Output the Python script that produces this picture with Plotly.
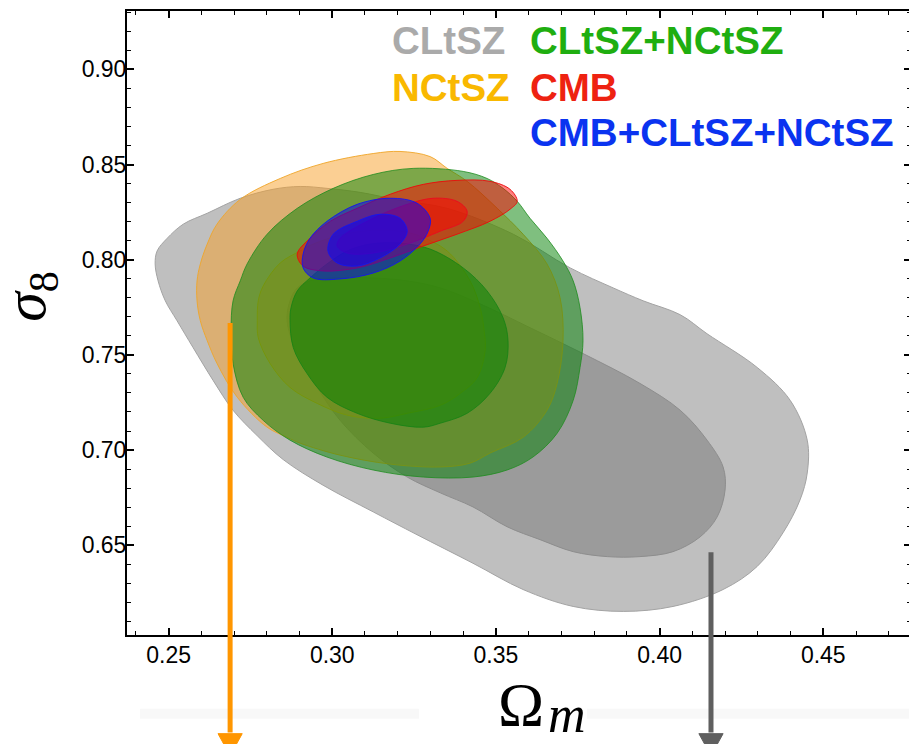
import plotly.graph_objects as go

# ---------------- axis ticks ----------------
x_ticks = [0.25, 0.30, 0.35, 0.40, 0.45]
x_tick_text = ["0.25", "0.30", "0.35", "0.40", "0.45"]
y_ticks = [0.65, 0.70, 0.75, 0.80, 0.85, 0.90]
y_tick_text = ["0.65", "0.70", "0.75", "0.80", "0.85", "0.90"]
x_range = [0.2373, 0.4768]
y_range = [0.6028, 0.9307]

# ---------------- contour boundaries (Omega_m, sigma_8) ----------------
# CLtSZ 95%
cl_out_om = [0.2459, 0.2465, 0.2496, 0.2545, 0.2618, 0.2719, 0.2819, 0.2902, 0.2984, 0.3085,
             0.3207, 0.3351, 0.3553, 0.3727, 0.3858, 0.3950, 0.4063, 0.4145, 0.4298, 0.4399,
             0.4451, 0.4451, 0.4429, 0.4377, 0.4298, 0.4194, 0.4041, 0.3889, 0.3736, 0.3583,
             0.3430, 0.3259, 0.3125, 0.2972, 0.2850, 0.2771, 0.2697, 0.2636, 0.2575, 0.2526,
             0.2490, 0.2468]
cl_out_s8 = [0.7978, 0.8046, 0.8113, 0.8187, 0.8244, 0.8323, 0.8370, 0.8385, 0.8375, 0.8354,
             0.8312, 0.8270, 0.8134, 0.7957, 0.7852, 0.7784, 0.7711, 0.7611, 0.7434, 0.7261,
             0.7052, 0.6879, 0.6738, 0.6565, 0.6388, 0.6267, 0.6178, 0.6152, 0.6178, 0.6267,
             0.6405, 0.6555, 0.6675, 0.6815, 0.6950, 0.7075, 0.7209, 0.7366, 0.7538, 0.7679,
             0.7784, 0.7889]
# CLtSZ 68%
cl_in_om = [0.2862, 0.2871, 0.2893, 0.2932, 0.2984, 0.3125, 0.3229, 0.3330, 0.3452, 0.3604,
            0.3766, 0.3940, 0.4063, 0.4145, 0.4194, 0.4200, 0.4176, 0.4124, 0.4041, 0.3940,
            0.3840, 0.3736, 0.3635, 0.3534, 0.3430, 0.3330, 0.3229, 0.3125, 0.3024, 0.2954,
            0.2893]
cl_in_s8 = [0.7679, 0.7784, 0.7852, 0.7889, 0.7904, 0.7904, 0.7889, 0.7852, 0.7768, 0.7643,
            0.7507, 0.7350, 0.7209, 0.7052, 0.6911, 0.6790, 0.6649, 0.6544, 0.6466, 0.6440,
            0.6440, 0.6466, 0.6529, 0.6597, 0.6701, 0.6775, 0.6858, 0.6984, 0.7156, 0.7329,
            0.7507]
# NCtSZ 95%
nc_out_om = [0.2587, 0.2597, 0.2618, 0.2648, 0.2719, 0.2841, 0.2972, 0.3125, 0.3207, 0.3299,
             0.3351, 0.3412, 0.3504, 0.3583, 0.3656, 0.3696, 0.3705, 0.3687, 0.3656, 0.3583,
             0.3482, 0.3421, 0.3330, 0.3177, 0.3024, 0.2902, 0.2862, 0.2801, 0.2710, 0.2648,
             0.2618, 0.2597, 0.2587]
nc_out_s8 = [0.7889, 0.7978, 0.8082, 0.8187, 0.8317, 0.8427, 0.8506, 0.8558, 0.8569, 0.8542,
             0.8480, 0.8412, 0.8270, 0.8134, 0.7978, 0.7800, 0.7575, 0.7350, 0.7209, 0.7067,
             0.6984, 0.6931, 0.6911, 0.6926, 0.6973, 0.7036, 0.7067, 0.7120, 0.7277, 0.7455,
             0.7575, 0.7679, 0.7784]
# NCtSZ 68%
nc_in_om = [0.2771, 0.2774, 0.2789, 0.2841, 0.2902, 0.2942, 0.3024, 0.3125, 0.3207, 0.3268,
            0.3351, 0.3421, 0.3452, 0.3464, 0.3467, 0.3443, 0.3391, 0.3330, 0.3229, 0.3146,
            0.3046, 0.2954, 0.2871, 0.2810, 0.2774]
nc_in_s8 = [0.7679, 0.7784, 0.7862, 0.7983, 0.8046, 0.8082, 0.8129, 0.8155, 0.8150, 0.8124,
            0.8046, 0.7889, 0.7747, 0.7627, 0.7522, 0.7381, 0.7298, 0.7235, 0.7193, 0.7167,
            0.7183, 0.7245, 0.7329, 0.7455, 0.7590]
# CLtSZ+NCtSZ 95%
cn_out_om = [0.2691, 0.2697, 0.2719, 0.2740, 0.2801, 0.2893, 0.3003, 0.3125, 0.3247, 0.3400,
             0.3473, 0.3522, 0.3565, 0.3604, 0.3656, 0.3705, 0.3736, 0.3757, 0.3766, 0.3757,
             0.3736, 0.3687, 0.3613, 0.3534, 0.3430, 0.3278, 0.3125, 0.2984, 0.2871, 0.2789,
             0.2728, 0.2697]
cn_out_s8 = [0.7627, 0.7784, 0.7889, 0.7978, 0.8134, 0.8270, 0.8375, 0.8448, 0.8480, 0.8464,
             0.8427, 0.8375, 0.8307, 0.8218, 0.8113, 0.7993, 0.7889, 0.7747, 0.7575, 0.7434,
             0.7261, 0.7088, 0.6963, 0.6895, 0.6858, 0.6858, 0.6895, 0.6963, 0.7052, 0.7156,
             0.7277, 0.7455]
# CLtSZ+NCtSZ 68%
cn_in_om = [0.2871, 0.2874, 0.2893, 0.2932, 0.2984, 0.3046, 0.3116, 0.3207, 0.3299, 0.3400,
            0.3473, 0.3522, 0.3537, 0.3528, 0.3482, 0.3412, 0.3330, 0.3278, 0.3177, 0.3076,
            0.2984, 0.2923, 0.2881]
cn_in_s8 = [0.7679, 0.7747, 0.7836, 0.7904, 0.7978, 0.8046, 0.8082, 0.8087, 0.8056, 0.7957,
            0.7836, 0.7695, 0.7575, 0.7434, 0.7298, 0.7193, 0.7141, 0.7120, 0.7141, 0.7193,
            0.7277, 0.7402, 0.7538]
# CMB 95%
cmb_out_om = [0.2893, 0.2932, 0.2994, 0.3076, 0.3177, 0.3278, 0.3381, 0.3482, 0.3543, 0.3565,
              0.3543, 0.3482, 0.3381, 0.3278, 0.3177, 0.3076, 0.2972, 0.2911]
cmb_out_s8 = [0.8030, 0.8113, 0.8202, 0.8270, 0.8344, 0.8396, 0.8417, 0.8412, 0.8370, 0.8307,
              0.8265, 0.8202, 0.8134, 0.8072, 0.8009, 0.7957, 0.7941, 0.7967]
# CMB 68%
cmb_in_om = [0.3015, 0.3024, 0.3125, 0.3229, 0.3308, 0.3381, 0.3412, 0.3400, 0.3330, 0.3229,
             0.3125, 0.3046]
cmb_in_s8 = [0.8072, 0.8113, 0.8218, 0.8291, 0.8323, 0.8307, 0.8255, 0.8202, 0.8150, 0.8082,
             0.8035, 0.8035]
# CMB+CLtSZ+NCtSZ 95%
all_out_om = [0.2911, 0.2932, 0.2984, 0.3076, 0.3177, 0.3259, 0.3299, 0.3293, 0.3268, 0.3207,
              0.3125, 0.3024, 0.2942, 0.2911]
all_out_s8 = [0.8030, 0.8113, 0.8202, 0.8291, 0.8323, 0.8297, 0.8218, 0.8150, 0.8082, 0.7993,
              0.7930, 0.7899, 0.7904, 0.7957]
# CMB+CLtSZ+NCtSZ 68%
all_in_om = [0.2987, 0.3003, 0.3076, 0.3146, 0.3207, 0.3229, 0.3207, 0.3146, 0.3076, 0.3015]
all_in_s8 = [0.8046, 0.8134, 0.8202, 0.8239, 0.8218, 0.8150, 0.8082, 0.8009, 0.7967, 0.7983]

# ---------------- legend labels / arrows ----------------
legend_labels = ["CLtSZ", "NCtSZ", "CLtSZ+NCtSZ", "CMB", "CMB+CLtSZ+NCtSZ"]
legend_colors = ["#aaaaaa", "#f9b800", "#1fae10", "#ee2211", "#0a33f0"]
arrow_om = [0.2688, 0.4157]
arrow_colors = ["#ff9600", "#5f5f5f"]

fig = go.Figure()


def add_region(om, s8, fill, edge, width=1.0):
    fig.add_trace(go.Scatter(
        x=om + om[:1], y=s8 + s8[:1], mode="lines", fill="toself",
        fillcolor=fill, line=dict(color=edge, width=width, shape="spline", smoothing=1.0),
        hoverinfo="skip", showlegend=False))


add_region(cl_out_om, cl_out_s8, "#bfbfbf", "#a3a3a3")
add_region(cl_in_om, cl_in_s8, "#9b9b9b", "#8d8d8d")
add_region(nc_out_om, nc_out_s8, "rgba(247,160,40,0.5)", "rgba(240,165,40,0.9)")
add_region(nc_in_om, nc_in_s8, "rgba(247,160,40,0.5)", "rgba(235,170,20,0.95)")
add_region(cn_out_om, cn_out_s8, "rgba(0,128,0,0.5)", "rgba(30,140,30,0.8)")
add_region(cn_in_om, cn_in_s8, "rgba(0,128,0,0.5)", "rgba(20,130,20,0.8)")
add_region(cmb_out_om, cmb_out_s8, "rgba(255,0,0,0.5)", "rgba(235,10,10,0.9)")
add_region(cmb_in_om, cmb_in_s8, "rgba(255,0,0,0.5)", "rgba(235,10,30,0.9)")
add_region(all_out_om, all_out_s8, "rgba(0,0,255,0.5)", "rgba(20,20,240,0.9)")
add_region(all_in_om, all_in_s8, "rgba(0,0,255,0.5)", "rgba(20,20,240,0.9)")

# legend texts
leg_pos = [(0.3355, 0.9521), (0.3355, 0.8770), (0.5115, 0.9521), (0.5115, 0.8770), (0.5115, 0.8051)]
for lab, col, (lx, ly) in zip(legend_labels, legend_colors, leg_pos):
    fig.add_annotation(x=lx, y=ly, xref="paper", yref="paper", text="<b>" + lab + "</b>",
                       showarrow=False, xanchor="left", yanchor="middle",
                       font=dict(family="Liberation Sans, Arial", size=38.5, color=col))

# axis titles
fig.add_annotation(x=-0.1245, y=0.5425, xref="paper", yref="paper",
                   text="<i>σ</i><sub>8</sub>", textangle=-90, showarrow=False,
                   xanchor="center", yanchor="middle", borderpad=0,
                   font=dict(family="Liberation Serif, Times New Roman", size=60, color="black"))
fig.add_annotation(x=0.5026, y=-0.1102, xref="paper", yref="paper",
                   text="Ω", showarrow=False, xanchor="center", yanchor="middle", borderpad=0,
                   font=dict(family="Liberation Serif, Times New Roman", size=62, color="black"))
fig.add_annotation(x=0.5610, y=-0.1275, xref="paper", yref="paper",
                   text="<i>m</i>", showarrow=False, xanchor="center", yanchor="middle", borderpad=0,
                   font=dict(family="Liberation Serif, Times New Roman", size=52, color="black"))

# arrows (vertical lines with triangular heads below the axis)
tail_y = [0.5, 0.1326]
head_base_y = -0.1581
head_tip_y = -0.1933
half_w = 0.0037
for om, col, ty in zip(arrow_om, arrow_colors, tail_y):
    fig.add_shape(type="line", xref="x", yref="paper", x0=om, x1=om, y0=ty, y1=head_base_y + 0.002,
                  line=dict(color=col, width=5))
    fig.add_shape(type="path", xref="x", yref="paper",
                  path=f"M {om - half_w},{head_base_y} L {om + half_w},{head_base_y} L {om},{head_tip_y} Z",
                  fillcolor=col, line=dict(color=col, width=1))

# faint background strips below the axis
for x0, x1 in [(0.0166, 0.3724), (0.5867, 1.01)]:
    fig.add_shape(type="rect", xref="paper", yref="paper", x0=x0, x1=x1, y0=-0.1342, y1=-0.1182,
                  fillcolor="#f8f8f8", line=dict(width=0), layer="below")

axis_common = dict(showgrid=False, zeroline=False, showline=True, linecolor="black", linewidth=2,
                   mirror="ticks", ticks="inside", ticklen=7, tickwidth=1.5, tickcolor="black",
                   tickfont=dict(family="Liberation Sans, Arial", size=23, color="black"))
fig.update_xaxes(range=x_range, tickvals=x_ticks, ticktext=x_tick_text, ticklabelstandoff=-2,
                 minor=dict(ticks="inside", ticklen=4, tickwidth=1.2, tickcolor="black", dtick=0.01,
                            tick0=0.25, showgrid=False),
                 **axis_common)
fig.update_yaxes(range=y_range, tickvals=y_ticks, ticktext=y_tick_text, ticklabelstandoff=-6,
                 minor=dict(ticks="inside", ticklen=4, tickwidth=1.2, tickcolor="black", dtick=0.01,
                            tick0=0.65, showgrid=False),
                 **axis_common)

# the page body adds an 8px offset, so the figure is sized to fit the remaining window
fig.update_layout(width=909, height=736, margin=dict(l=119, r=6, t=1, b=109),
                  plot_bgcolor="white", paper_bgcolor="white", showlegend=False)

fig.write_html("out.html")
